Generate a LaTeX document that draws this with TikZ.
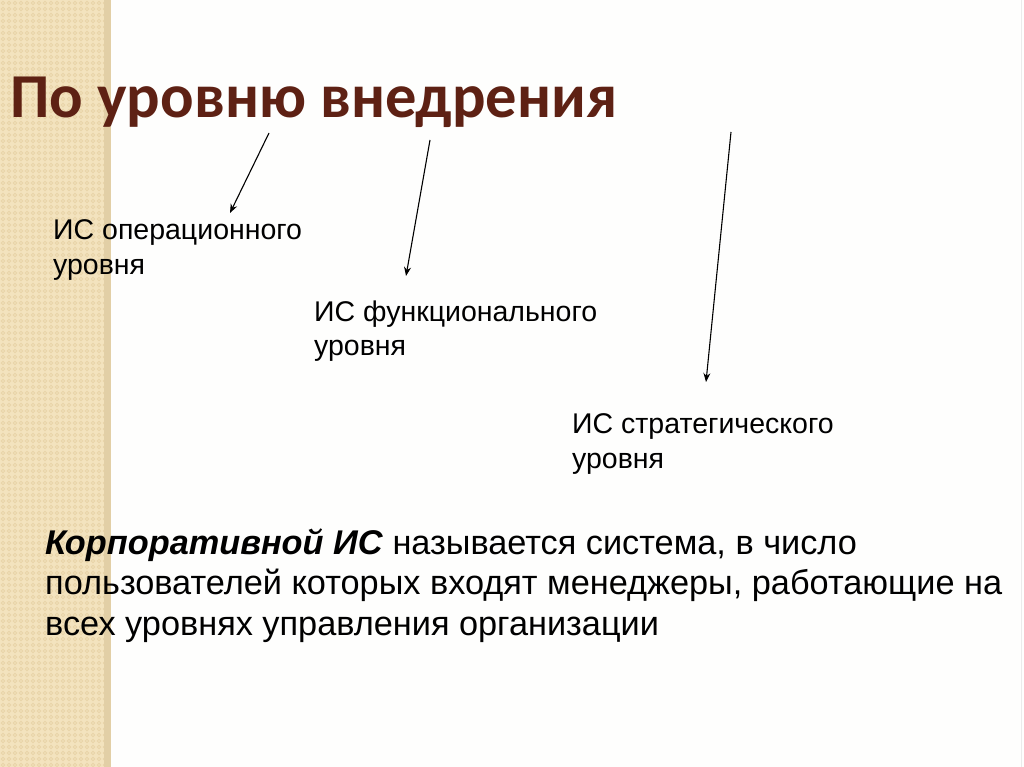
\documentclass[tikz,border=0pt]{standalone}
\usepackage{fontspec}
\setmainfont{Liberation Sans}
\newfontfamily\titlefont{Carlito}
\usetikzlibrary{arrows.meta,calc}
\definecolor{titlebrown}{RGB}{94,33,20}
\definecolor{stripbg}{RGB}{243,227,190}
\definecolor{stripdot}{RGB}{232,212,168}
\definecolor{stripedge}{RGB}{226,207,166}
\definecolor{pagebg}{RGB}{254,254,253}
\tikzset{
  lbl/.style={anchor=base west, inner sep=0pt, font=\fontsize{28.5}{32}\selectfont, text=black},
  para/.style={anchor=base west, inner sep=0pt, font=\fontsize{34.3}{40}\selectfont, text=black},
  ptr/.style={draw=black, line width=1.1pt, -{Stealth[length=9pt,width=7pt]}},
}
\begin{document}
\begin{tikzpicture}[x=1pt,y=-1pt]
\useasboundingbox (0,0) rectangle (1024,767);
\fill[pagebg] (0,0) rectangle (1024,767);
% textured strip
\fill[stripbg] (0,0) rectangle (111,767);
\foreach \i in {0,...,17}{
  \foreach \j in {0,...,127}{
    \draw[stripdot, line width=0.8pt] (3+6*\i,3+6*\j) circle (1.8);
  }
}
\fill[stripedge] (104,0) rectangle (111,767);
\draw[black!8, line width=1pt] (1021,0) -- (1021,767);
% title
\node[anchor=base west, inner sep=0pt, text=titlebrown, font=\titlefont\bfseries\fontsize{62.5}{70}\selectfont] (title) at (10,118) {По уровню внедрения};
% labels
\node[lbl] (l1a) at (53,240) {ИС операционного};
\node[lbl] (l1b) at (53,274) {уровня};
\node[lbl] (l2a) at (314,321) {ИС функционального};
\node[lbl] (l2b) at (314,355) {уровня};
\node[lbl] (l3a) at (572,433) {ИС стратегического};
\node[lbl] (l3b) at (572,468) {уровня};
% arrow start points
\coordinate (s1) at (269,133);
\coordinate (s2) at (430,140);
\coordinate (s3) at (731,132);
\draw[ptr] (s1) -- ($(l1a.base west)+(177,-27)$);
\draw[ptr] (s2) -- ($(l2a.base west)+(92,-45)$);
\draw[ptr] (s3) -- ($(l3a.base west)+(134,-51)$);
% paragraph
\node[para] (p1) at (45,554) {\textbf{\textit{Корпоративной ИС}} называется система, в число};
\node[para] (p2) at (45,594.5) {пользователей которых входят менеджеры, работающие на};
\node[para] (p3) at (45,635) {всех уровнях управления организации};
\end{tikzpicture}
\end{document}
